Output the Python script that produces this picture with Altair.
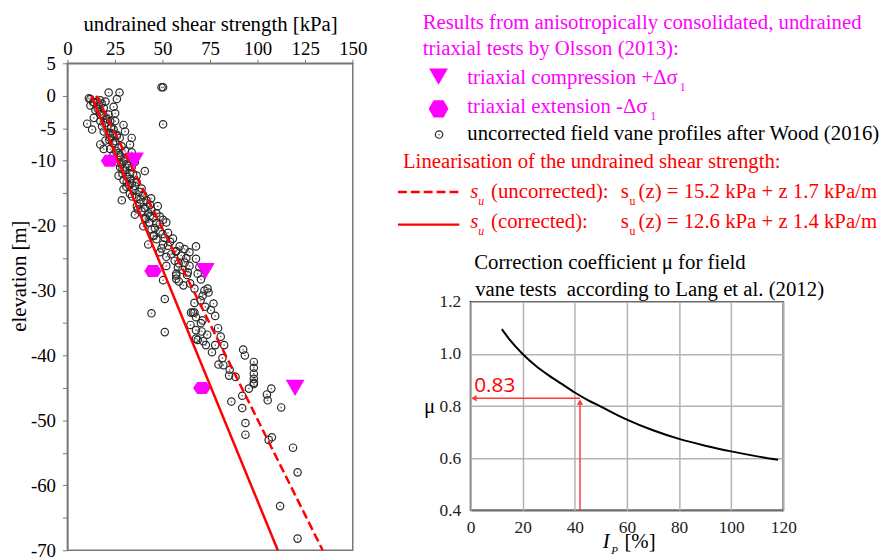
import altair as alt
import pandas as pd

SERIF = "Liberation Serif"
MAG = "#ff00ff"
RED = "#ff0000"

# ---------------- data ----------------
vane_su = [49.5, 50.3, 50.3, 21.7, 27.4, 11.3, 12.1, 15.6, 17.3, 26.0, 24.3, 20.0, 12.1, 14.7,
           19.1, 21.7, 25.1, 17.3, 13.9, 10.4, 13.0, 17.3, 18.2, 22.5, 25.1, 29.5, 30.3, 19.1,
           21.7, 24.3, 33.8, 32.9, 17.3, 20.0, 22.5, 25.1, 26.9, 22.5, 19.1, 30.3, 33.8, 24.3,
           27.7, 29.5, 31.2, 33.8, 27.7, 30.3, 32.9, 36.4, 40.7, 26.9, 31.2, 33.8, 36.4, 29.5,
           34.7, 39.0, 32.9, 39.9, 36.4, 28.6, 41.6, 38.1, 43.4, 40.7, 44.2, 46.8, 42.5, 48.6,
           35.5, 45.1, 50.3, 52.0, 46.8, 39.9, 44.2, 48.6, 52.9, 51.2, 46.8, 42.5, 55.5, 50.3,
           52.9, 59.0, 67.6, 57.2, 61.6, 48.6, 54.6, 59.8, 64.2, 67.6, 56.4, 61.6, 64.2, 52.0,
           58.1, 69.4, 57.2, 63.3,
           28.5, 30.5, 29.0, 31.5, 32.5, 28.0, 25.5, 26.0, 23.0, 20.5, 16.0, 18.0, 14.0, 22.0,
           35.5, 37.0, 41.0, 43.0, 45.5, 47.5, 38.5, 44.0,
           13.5, 16.5, 17.0, 19.0, 21.0, 20.0, 23.0, 24.0, 26.0, 27.5, 24.0, 28.5, 27.0, 30.5,
           27.0, 32.5, 29.0, 34.5, 33.0, 29.5, 35.5, 31.0, 37.5, 34.0, 40.0, 36.5, 39.0, 43.5,
           41.0, 48.5, 46.0, 50.0, 45.0, 54.0, 49.5, 57.0, 52.0, 62.5, 58.5, 60.5, 64.5, 61.0,
           70.0, 72.5, 71.0, 73.5, 76.0, 82.0,
           50.3, 57.2, 57.2, 58.6, 62.9, 68.5, 70.2, 66.8, 71.1, 73.7, 74.2, 72.0, 51.2, 44.2,
           66.8, 76.8, 75.4, 77.7, 65.0, 66.0, 66.8, 67.6, 64.7, 70.2, 67.6, 70.6, 79.2, 51.2,
           67.6, 68.5, 71.4, 72.8, 77.7, 80.6, 82.4, 92.4, 93.3, 81.5, 79.4, 85.3, 85.0, 88.4,
           98.0, 98.0, 98.0, 98.0, 98.0, 98.0, 95.4, 91.9, 86.2, 91.9, 104.9, 105.3, 107.2,
           112.4, 93.6, 93.6, 107.5, 105.8, 118.6, 121.0, 111.8, 121.0]
vane_z = [1.3, 1.3, -4.4, 0.5, 0.5, -0.4, -0.5, -0.9, -0.7, -0.5, -1.7, -0.9, -1.5, -2.2,
          -1.9, -2.9, -2.7, -2.9, -3.4, -4.3, -5.2, -3.9, -4.7, -3.9, -3.9, -4.5, -5.5, -5.5,
          -5.7, -5.2, -6.5, -7.5, -7.5, -6.9, -6.5, -7.0, -8.0, -8.2, -8.2, -8.5, -8.7, -9.0,
          -9.2, -10.0, -10.5, -11.0, -11.0, -11.5, -12.0, -12.3, -11.6, -12.3, -13.3, -13.5, -13.3, -14.4,
          -14.5, -14.3, -15.1, -15.3, -15.6, -16.1, -16.1, -16.6, -16.8, -17.3, -17.6, -18.1, -18.1, -18.6,
          -18.3, -18.8, -19.1, -19.5, -19.6, -20.1, -20.6, -20.9, -21.1, -21.9, -22.1, -22.9, -22.0, -22.9,
          -23.1, -23.2, -23.2, -23.9, -23.6, -24.1, -24.4, -24.6, -24.1, -25.1, -25.4, -25.7, -26.2, -26.2,
          -26.4, -26.4, -27.4, -27.2,
          -10.5, -11.0, -12.0, -12.5, -13.8, -9.5, -8.5, -6.0, -5.0, -3.5, -2.0, -1.2, -1.0, -6.8,
          -10.2, -17.5, -18.8, -19.5, -21.5, -17.0, -16.0, -15.8,
          -1.0, -1.3, -2.5, -3.0, -3.6, -4.2, -4.8, -5.8, -6.2, -6.5, -7.3, -7.8, -8.8, -9.6,
          -10.3, -10.8, -11.3, -12.0, -12.8, -13.0, -13.9, -14.0, -14.8, -15.5, -16.4, -17.0, -17.8, -18.5,
          -19.0, -19.8, -20.4, -21.3, -21.6, -22.5, -23.5, -24.0, -24.8, -25.0, -25.8, -26.8, -28.9, -29.2,
          -31.5, -32.5, -34.6, -36.8, -39.5, -41.5,
          -28.4, -27.7, -28.2, -28.6, -27.6, -27.4, -28.3, -29.7, -30.8, -29.7, -30.3, -30.0, -31.3, -33.5,
          -31.9, -32.0, -33.0, -33.9, -33.4, -33.4, -33.4, -34.1, -35.3, -35.0, -36.1, -36.3, -35.8, -36.4,
          -37.4, -37.6, -37.8, -38.4, -38.4, -37.1, -38.4, -39.1, -40.0, -40.4, -41.4, -42.2, -43.1, -43.3,
          -41.0, -41.9, -42.8, -43.6, -44.2, -44.4, -45.1, -46.2, -47.1, -48.1, -46.0, -46.9, -45.1,
          -48.0, -50.4, -52.2, -52.6, -53.0, -54.2, -58.0, -63.2, -68.2]

tc_su = [35.3, 72.5, 119.7]      # triaxial compression
tc_z = [-10, -27, -45]
te_su = [22.2, 45.0, 70.7]       # triaxial extension
te_z = [-10, -27, -45]

lin_z = [0, -70]
lin_su_uncorr = [15.2, 134.2]
lin_su_corr = [12.6, 110.6]

ip_pct = [12, 15, 20, 25, 30, 35, 40, 45, 50, 60, 70, 80, 90, 100, 110, 118]
mu_val = [1.095, 1.055, 1.0, 0.955, 0.918, 0.885, 0.852, 0.823, 0.798, 0.748, 0.707,
          0.674, 0.648, 0.626, 0.607, 0.594]
ip_read = 42
mu_read = 0.83

x_ticks = [0, 25, 50, 75, 100, 125, 150]
y_ticks = list(range(5, -71, -5))
ip_ticks = [0, 20, 40, 60, 80, 100, 120]
mu_ticks = [0.4, 0.6, 0.8, 1.0, 1.2]

# ---------------- left chart ----------------
HEX_PLOT = "M-1,0L-0.55,-0.68L0.55,-0.68L1,0L0.55,0.68L-0.55,0.68Z"
HEX_LEG = "M-1,0L-0.5,-0.866L0.5,-0.866L1,0L0.5,0.866L-0.5,0.866Z"

xs = alt.Scale(domain=[0, 150], nice=False, zero=False)
ys = alt.Scale(domain=[-70, 5], nice=False, zero=False)
xax = alt.Axis(orient="top", values=x_ticks, title="undrained shear strength [kPa]", grid=False,
               tickSize=4, labelPadding=1, titlePadding=5, labelFontSize=19, titleFontSize=21,
               labelFont=SERIF, titleFont=SERIF, titleFontWeight="normal", labelColor="black",
               titleColor="black", tickColor="#777", domainColor="#777", domainWidth=1.5,
               labelFlush=False, labelOverlap=False)
yax = alt.Axis(values=y_ticks, title=None, grid=False, tickSize=5, labelPadding=7,
               labelFontSize=19, labelFont=SERIF, labelColor="black", tickColor="#777",
               domainColor="#777", domainWidth=1.5, labelOverlap=False,
               labelExpr="(datum.value >= -10 || datum.value % 10 == 0) ? (datum.value < 0 ? '-' + abs(datum.value) : '' + datum.value) : ''")
X = alt.X("su:Q", scale=xs, axis=xax)
Y = alt.Y("z:Q", scale=ys, axis=yax)

vane = pd.DataFrame({"su": vane_su, "z": vane_z})
tc = pd.DataFrame({"su": tc_su, "z": tc_z})
te = pd.DataFrame({"su": te_su, "z": te_z})
l_unc = pd.DataFrame({"su": lin_su_uncorr, "z": lin_z})
l_cor = pd.DataFrame({"su": lin_su_corr, "z": lin_z})
one = pd.DataFrame({"a": [0]})


def txt(s, x, y, size=21, color="black", font=SERIF, style="normal", align="left", angle=0):
    return alt.Chart(one).mark_text(text=s, align=align, baseline="alphabetic", font=font,
                                    fontSize=size, color=color, fontStyle=style,
                                    angle=angle).encode(x=alt.value(x), y=alt.value(y))


circ = alt.Chart(vane).mark_point(shape="circle", filled=False, size=56, color="#2a2a2a",
                                  strokeWidth=1.2, opacity=1).encode(x=X, y=Y)
dots = alt.Chart(vane).mark_point(shape="circle", filled=True, size=3, color="#777",
                                  opacity=1).encode(x=X, y=Y)
tri = alt.Chart(tc).mark_point(shape="triangle-down", filled=True, size=360, color=MAG,
                               opacity=1).encode(x=X, y=Y)
hexm = alt.Chart(te).mark_point(shape=HEX_PLOT, filled=True, size=313, color=MAG,
                                opacity=1).encode(x=X, y=Y)
line_u = alt.Chart(l_unc).mark_line(color=RED, strokeWidth=2.5, strokeDash=[9, 4]).encode(x=X, y=Y)
line_c = alt.Chart(l_cor).mark_line(color=RED, strokeWidth=2.5).encode(x=X, y=Y)
ytitle = txt("elevation [m]", -41.7, 215, angle=270, align="center")

left = alt.layer(circ, dots, tri, hexm, line_u, line_c, ytitle).properties(
    width=288.3, height=492, view=alt.ViewBackground(stroke="#777", strokeWidth=1.5))

# ---------------- legend panel ----------------
leg_items = [
    txt("Results from anisotropically consolidated, undrained", -48.3, -35, color=MAG),
    txt("triaxial tests by Olsson (2013):", -48.3, -8, color=MAG),
    alt.Chart(one).mark_point(shape="triangle-down", filled=True, size=360, color=MAG, opacity=1)
    .encode(x=alt.value(-32.3), y=alt.value(13.5)),
    txt("triaxial compression +\u0394\u03c3", -3.3, 21, color=MAG),
    txt("1", 211.3, 28, size=12, color=MAG),
    alt.Chart(one).mark_point(shape=HEX_LEG, filled=True, size=400, color=MAG, opacity=1)
    .encode(x=alt.value(-32.3), y=alt.value(46)),
    txt("triaxial extension -\u0394\u03c3", -3.3, 50, color=MAG),
    txt("1", 181.5, 57, size=12, color=MAG),
    alt.Chart(one).mark_point(shape="circle", filled=False, size=56, color="#2a2a2a",
                              strokeWidth=1.2, opacity=1).encode(x=alt.value(-31.8), y=alt.value(72)),
    alt.Chart(one).mark_point(shape="circle", filled=True, size=3, color="#777", opacity=1)
    .encode(x=alt.value(-31.8), y=alt.value(72)),
    txt("uncorrected field vane profiles after Wood (2016)", -3.3, 77),
    txt("Linearisation of the undrained shear strength:", -68.3, 106, color=RED),
    alt.Chart(one).mark_rule(color=RED, strokeWidth=2.5, strokeDash=[9, 4])
    .encode(x=alt.value(-73.3), x2=alt.value(-11.3), y=alt.value(130)),
    txt("s", -0.3, 136, color=RED, style="italic"),
    txt("u", 7.7, 143, size=12, color=RED, style="italic"),
    txt("(uncorrected):", 20.7, 136, color=RED),
    txt("s", 151.7, 136, color=RED),
    txt("u", 160.7, 143, size=12, color=RED),
    txt("(z) = 15.2 kPa + z 1.7 kPa/m", 169.7, 136, color=RED),
    alt.Chart(one).mark_rule(color=RED, strokeWidth=2.5)
    .encode(x=alt.value(-73.3), x2=alt.value(-11.3), y=alt.value(163)),
    txt("s", -0.3, 166, color=RED, style="italic"),
    txt("u", 7.7, 173, size=12, color=RED, style="italic"),
    txt("(corrected):", 20.7, 166, color=RED),
    txt("s", 151.7, 166, color=RED),
    txt("u", 160.7, 173, size=12, color=RED),
    txt("(z) = 12.6 kPa + z 1.4 kPa/m", 169.7, 166, color=RED),
    txt("Correction coefficient \u03bc for field", 3.7, 208),
    txt("vane tests\u00a0 according to Lang et al. (2012)", 4.7, 235),
]
legend = alt.layer(*leg_items).properties(width=316, height=240.7)

# ---------------- mu chart ----------------
mxs = alt.Scale(domain=[0, 120], nice=False, zero=False)
mys = alt.Scale(domain=[0.4, 1.2], nice=False, zero=False)
mxa = alt.Axis(values=ip_ticks, title=None, grid=True, gridColor="#b3b3b3", gridWidth=1.5,
               ticks=False, domain=False, labelPadding=8, labelFontSize=17.5, labelFont=SERIF,
               labelColor="#222", labelFlush=False, labelOverlap=False)
mya = alt.Axis(values=mu_ticks, title=None, grid=True, gridColor="#b3b3b3", gridWidth=1.5,
               ticks=False, domain=False, labelPadding=10, labelFontSize=17.5, labelFont=SERIF,
               labelColor="#222", format=".1f", labelOverlap=False)
MX = alt.X("ip:Q", scale=mxs, axis=mxa)
MY = alt.Y("mu:Q", scale=mys, axis=mya)

curve_df = pd.DataFrame({"ip": ip_pct, "mu": mu_val})
curve = alt.Chart(curve_df).mark_line(color="black", strokeWidth=2, interpolate="monotone").encode(x=MX, y=MY)

h_arrow = pd.DataFrame({"ip": [ip_read, 2.0], "mu": [mu_read, mu_read]})
v_arrow = pd.DataFrame({"ip": [ip_read, ip_read], "mu": [0.4, mu_read - 0.012]})
ARW = "#ff3a3a"
h_line = alt.Chart(h_arrow).mark_line(color=ARW, strokeWidth=1.5).encode(x=MX, y=MY)
v_line = alt.Chart(v_arrow).mark_line(color=ARW, strokeWidth=1.5).encode(x=MX, y=MY)
h_head = alt.Chart(pd.DataFrame({"ip": [1.3], "mu": [mu_read]})).mark_point(
    shape="triangle-left", filled=True, size=40, color=ARW, opacity=1).encode(x=MX, y=MY)
v_head = alt.Chart(pd.DataFrame({"ip": [ip_read], "mu": [mu_read - 0.015]})).mark_point(
    shape="triangle-up", filled=True, size=40, color=ARW, opacity=1).encode(x=MX, y=MY)
lab083 = alt.Chart(pd.DataFrame({"ip": [1.4], "mu": [0.853], "t": ["0.83"]})).mark_text(
    align="left", baseline="alphabetic", font="Open Sans", fontSize=21, color=RED).encode(
    x=MX, y=MY, text="t:N")

mu_chart = alt.layer(
    curve, h_line, v_line, h_head, v_head, lab083,
    txt("\u03bc", -47, 112),
    txt("I", 133.7, 248.3, style="italic"),
    txt("P", 142.2, 254.3, size=11, style="italic"),
    txt("[%]", 155.5, 248.3),
).properties(width=316, height=210.6, view=alt.ViewBackground(stroke="#222", strokeWidth=1.5))

right = alt.vconcat(legend, mu_chart, spacing=0, bounds="flush")

chart = alt.hconcat(left, right, spacing=118.3, bounds="flush").properties(
    padding={"left": 0, "top": 0, "right": 0, "bottom": 0}
).configure(font=SERIF).configure_view(stroke="transparent")

chart.save("out.html", embed_options={"renderer": "svg", "actions": False})
